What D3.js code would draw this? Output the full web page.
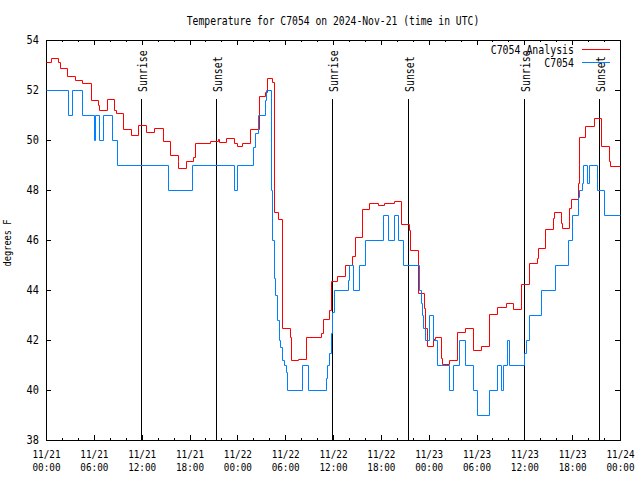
<!DOCTYPE html>
<html><head><meta charset="utf-8">
<script src="https://cdn.jsdelivr.net/npm/d3@7"></script>
<style>body{margin:0;background:#fff} svg{display:block}</style>
</head><body><svg id="c" width="640" height="480"></svg>
<script>
// ---------------- data ----------------
const startTime = "2024-11-21T00:00:00Z";
const endTime = "2024-11-24T00:00:00Z";
const titleText = "Temperature for C7054 on 2024-Nov-21 (time in UTC)";
const yLabel = "degrees F";
const seriesNames = ["C7054 Analysis", "C7054"];
const yTicks = [38, 40, 42, 44, 46, 48, 50, 52, 54];

// hours after start, value holds until next entry
const analysisHours = [0,0.6,1.55,1.7,2.6,3.6,4.56,5.6,6.5,6.65,7.6,8.5,8.8,9.6,10.6,11.6,12.6,13.6,14.7,15.6,16.5,16.6,17.6,18.5,18.7,20.6,21.6,21.75,22.6,23.6,23.9,24.6,25.6,26.7,27.5,27.7,28.3,28.6,29.1,29.6,30.55,30.7,31.6,32.6,34.5,34.7,35.5,35.7,36.5,37.5,38.4,38.7,39.65,40.55,41.6,42.45,43.6,44.5,45.5,45.7,46.6,47.45,47.6,47.85,48.55,48.75,49.6,49.7,50.6,51.6,52.6,53.55,54.55,55.55,56.6,57.65,58.6,59.6,60.6,61.6,61.75,62.6,63.6,63.7,64.6,64.7,65.55,65.65,65.8,66.7,66.8,67.65,68.7,69.65,70.6,70.8,72];
const analysisTemps = [53.1,53.3,53.1,52.9,52.56,52.39,52.29,51.6,51.39,51.2,51.63,51.2,51.07,50.44,50.2,50.6,50.31,50.47,49.96,49.4,49.16,48.87,49.16,49.33,49.9,49.96,50.04,49.93,50.07,49.87,49.76,49.89,50.43,51.76,51.93,52.49,52.33,47.13,46.84,42.5,42.13,41.2,41.25,42.1,42.27,42.83,43.2,44.36,44.56,45.0,45.36,46.1,47.23,47.5,47.4,47.47,47.56,46.64,46.4,45.6,43.87,43.3,42.5,41.76,42.03,42.1,41.3,41.03,41.2,42.31,42.5,41.6,41.77,43.04,43.33,43.47,43.23,44.23,45.07,45.29,45.67,46.43,46.89,47.12,46.67,46.47,46.77,47.3,47.63,48.27,50.1,50.56,50.87,49.76,49.17,48.96,48.96];

const obsHours = [0,2.8,3.2,4.5,6.0,6.2,6.7,7.2,8.3,8.9,15.3,18.3,23.6,24.0,26.0,26.2,26.6,27.5,27.6,28.25,28.4,28.55,28.75,29.0,29.2,29.4,29.65,29.86,30.07,30.28,32.16,32.9,35.1,35.3,35.5,35.7,35.85,36.1,37.85,37.95,38.5,39.27,40.05,42.25,42.9,43.7,44.1,44.75,46.85,47.0,47.2,47.35,47.6,48.1,48.5,49.05,50.55,51.05,51.8,52.6,53.5,54.0,55.55,56.6,57.1,57.35,57.85,58.1,60.0,60.2,60.6,62.1,63.8,65.5,66.0,66.7,66.9,67.2,67.4,67.85,68.1,69.1,70.0,72];
const obsTemps = [52,51,52,51,50,51,50,51,50,49,48,49,48,49,49.7,50.3,51,51.6,52,48,46,44.5,43.8,42.8,42,41.7,41.2,41,40.7,40,41,40,40.5,41,41.5,42.3,43.1,44,44.4,45,44,45,46,47,46,47,46,45,44,43.5,43,42.5,42,43,42,41,40,41,42,41,40,39,40,41,40,41,42,41,41.5,42,43,44,45,46,47,47.7,48,48.3,49,48.3,49,48,47,47];

const sunLabels = ["Sunrise","Sunset","Sunrise","Sunset","Sunrise","Sunset"];
const sunTimes = ["2024-11-21T11:52:00Z","2024-11-21T21:23:00Z","2024-11-22T11:50:00Z","2024-11-22T21:21:00Z","2024-11-23T11:55:00Z","2024-11-23T21:24:00Z"];

// ---------------- drawing ----------------
const svg = d3.select("#c");
const FONT = "'DejaVu Sans Mono', monospace";
const FS = 12;
const t0 = new Date(startTime), t1 = new Date(endTime);
const hr = h => new Date(t0.getTime() + h * 3600000);

const x = d3.scaleUtc().domain([t0, t1]).range([46, 620]);
const y = d3.scaleLinear().domain([38, 54]).range([440, 40]);

function fit(sel, perChar) {
  sel.each(function () {
    const n = this.textContent.length;
    d3.select(this).attr("textLength", n * perChar).attr("lengthAdjust", "spacingAndGlyphs");
  });
}

// sunrise / sunset markers
const sun = svg.append("g");
sunTimes.forEach((s, i) => {
  const xx = Math.round(x(new Date(s))) + 0.5;
  sun.append("line").attr("x1", xx).attr("x2", xx).attr("y1", 99).attr("y2", 440)
    .attr("stroke", "#000").attr("stroke-width", 1).attr("shape-rendering", "crispEdges");
  sun.append("text").attr("transform", `translate(${xx + 5},92) rotate(-90)`)
    .attr("text-anchor", "start").attr("font-family", FONT).attr("font-size", FS)
    .text(sunLabels[i]);
});
fit(sun.selectAll("text"), 5.95);

// axes (inward ticks, mirrored)
const major = d3.utcHour.every(6).range(t0, d3.utcHour.offset(t1, 1));
const minor = d3.utcHour.every(2).range(t0, d3.utcHour.offset(t1, 1)).filter(d => d.getUTCHours() % 6 !== 0);
const fmtDay = d3.utcFormat("%m/%d"), fmtTime = d3.utcFormat("%H:%M");

function styleAxis(g) {
  g.select(".domain").remove();
  g.selectAll("line").attr("stroke", "#000").attr("shape-rendering", "crispEdges");
}

const xb = svg.append("g").attr("transform", "translate(0,440)")
  .call(d3.axisBottom(x).tickValues(major).tickSize(-5).tickFormat(""));
styleAxis(xb);
xb.selectAll(".tick text").remove();
xb.selectAll(".tick").each(function (d) {
  const g = d3.select(this);
  g.append("text").attr("y", 18).attr("text-anchor", "middle").attr("fill", "#000")
    .attr("font-family", FONT).attr("font-size", 11).text(fmtDay(d));
  g.append("text").attr("y", 31).attr("text-anchor", "middle").attr("fill", "#000")
    .attr("font-family", FONT).attr("font-size", 11).text(fmtTime(d));
});
fit(xb.selectAll("text"), 5.6);
styleAxis(svg.append("g").attr("transform", "translate(0,440)")
  .call(d3.axisBottom(x).tickValues(minor).tickSize(-2).tickFormat("")));
styleAxis(svg.append("g").attr("transform", "translate(0,40)")
  .call(d3.axisTop(x).tickValues(major).tickSize(-5).tickFormat("")));
styleAxis(svg.append("g").attr("transform", "translate(0,40)")
  .call(d3.axisTop(x).tickValues(minor).tickSize(-2).tickFormat("")));

const yl = svg.append("g").attr("transform", "translate(46,0)")
  .call(d3.axisLeft(y).tickValues(yTicks).tickSize(-5).tickPadding(7).tickFormat(d3.format("d")));
styleAxis(yl);
yl.selectAll("text").attr("font-family", FONT).attr("font-size", FS).attr("fill", "#000");
fit(yl.selectAll("text"), 6.2);
styleAxis(svg.append("g").attr("transform", "translate(620,0)")
  .call(d3.axisRight(y).tickValues(yTicks).tickSize(-5).tickFormat("")));

// border
svg.append("rect").attr("x", 46.5).attr("y", 40.5).attr("width", 574).attr("height", 400)
  .attr("fill", "none").attr("stroke", "#000").attr("shape-rendering", "crispEdges");

// series
const line = d3.line().x(d => Math.round(x(d[0])) + 0.5).y(d => Math.round(y(d[1])) + 0.5)
  .curve(d3.curveStepAfter);
const analysis = analysisHours.map((h, i) => [hr(h), analysisTemps[i]]);
const obs = obsHours.map((h, i) => [hr(h), obsTemps[i]]);
const colors = ["#ff0000", "#0080ff"];
svg.append("path").datum(analysis).attr("d", line).attr("fill", "none")
  .attr("stroke", colors[0]).attr("stroke-width", 1);
svg.append("path").datum(obs).attr("d", line).attr("fill", "none")
  .attr("stroke", colors[1]).attr("stroke-width", 1);

// legend
const lg = svg.append("g");
seriesNames.forEach((name, i) => {
  const yy = 49.5 + i * 13;
  lg.append("text").attr("x", 574).attr("y", yy + 4).attr("text-anchor", "end")
    .attr("font-family", FONT).attr("font-size", FS).text(name);
  lg.append("line").attr("x1", 582).attr("x2", 610).attr("y1", yy).attr("y2", yy)
    .attr("stroke", colors[i]).attr("shape-rendering", "crispEdges");
});
fit(lg.selectAll("text"), 5.95);

// title and y label
svg.append("text").attr("x", 333).attr("y", 25).attr("text-anchor", "middle")
  .attr("font-family", FONT).attr("font-size", FS).text(titleText).call(fit, 5.85);
svg.append("text").attr("transform", "translate(11,243) rotate(-90)").attr("text-anchor", "middle")
  .attr("font-family", FONT).attr("font-size", 11).text(yLabel).call(fit, 5.2);
</script>
</body></html>
